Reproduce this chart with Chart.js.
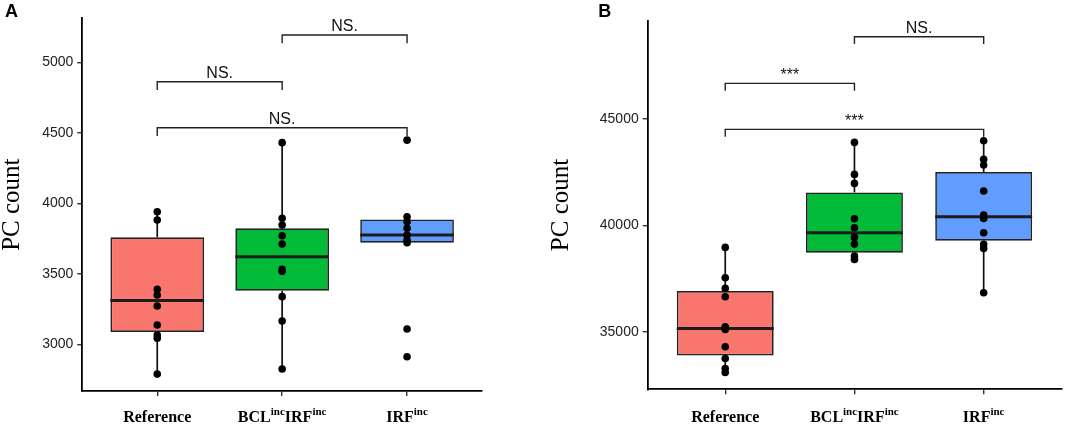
<!DOCTYPE html>
<html>
<head>
<meta charset="utf-8">
<script src="https://cdn.jsdelivr.net/npm/chart.js@4/dist/chart.umd.min.js"></script>
<style>
html, body { margin: 0; padding: 0; background: #fff; width: 1065px; height: 424px; overflow: hidden; }
#pa { position: absolute; left: 0; top: 0; width: 530px; height: 424px; }
#pb { position: absolute; left: 530px; top: 0; width: 535px; height: 424px; }
</style>
</head>
<body>
<div id="pa"><canvas id="ca"></canvas></div>
<div id="pb"><canvas id="cb"></canvas></div>
<script>
// ---------- shared ----------
const categories = ['Reference', 'BCL<sup>inc</sup>IRF<sup>inc</sup>', 'IRF<sup>inc</sup>'];
const boxColors = ['#F8766D', '#00BA38', '#619CFF'];
const yTitle = 'PC count';

// ---------- Panel A ----------
const yTicksA = [3000, 3500, 4000, 4500, 5000];
const pointsA_Reference = [3940, 3882, 3390, 3350, 3272, 3137, 3066, 3043, 2789];
const pointsA_BCL = [4430, 3894, 3846, 3770, 3711, 3532, 3518, 3338, 3165, 2825];
const pointsA_IRF = [4448, 3905, 3869, 3823, 3775, 3740, 3721, 3109, 2912];
const whiskerLowA = [2789, 2825, 3716];
const q1A = [3087, 3380, 3721];
const medianA = [3310, 3621, 3775];
const q3A = [3759, 3823, 3886];
const whiskerHighA = [3940, 4430, 3905];
const compPairsA = [[1, 2], [2, 3], [1, 3]];
const bracketTopA = [4862, 5194, 4536];
const bracketEndA = [4803, 5135, 4477];
const bracketLabelsA = ['NS.', 'NS.', 'NS.'];

// ---------- Panel B ----------
const yTicksB = [35000, 40000, 45000];
const pointsB_Reference = [38964, 37537, 37035, 36643, 35232, 35107, 34291, 33742, 33272, 33084];
const pointsB_BCL = [43902, 42397, 41974, 40312, 39889, 39434, 39120, 38556, 38399];
const pointsB_IRF = [43981, 43103, 42836, 41613, 40484, 40327, 39653, 39105, 38917, 36831];
const whiskerLowB = [33084, 38399, 36831];
const q1B = [33884, 38713, 39277];
const medianB = [35154, 39653, 40406];
const q3B = [36909, 41551, 42507];
const whiskerHighB = [38964, 43902, 43981];
const compPairsB = [[1, 2], [2, 3], [1, 3]];
const bracketTopB = [46679, 48871, 44515];
const bracketEndB = [46331, 48528, 44167];
const bracketLabelsB = ['***', 'NS.', '***'];

// ---------- helpers ----------
const mainFont = 'bold 16px "Liberation Serif"';
const supFont = 'bold 11px "Liberation Serif"';

function drawRich(ctx, markup, cx, baseline) {
  const segs = markup.split(/(<sup>.*?<\/sup>)/).filter(s => s).map(s => {
    const sup = s.startsWith('<sup>');
    return { text: sup ? s.slice(5, -6) : s, sup };
  });
  let total = 0;
  segs.forEach(sg => { ctx.font = sg.sup ? supFont : mainFont; sg.w = ctx.measureText(sg.text).width; total += sg.w; });
  let x = cx - total / 2;
  ctx.textAlign = 'left';
  ctx.textBaseline = 'alphabetic';
  ctx.fillStyle = '#000';
  segs.forEach(sg => {
    ctx.font = sg.sup ? supFont : mainFont;
    ctx.fillText(sg.text, x, sg.sup ? baseline - 7 : baseline);
    x += sg.w;
  });
}

function buildPanel(canvasId, d, lay) {
  const datasets = [];
  // points
  const pts = [];
  d.points.forEach((arr, gi) => arr.forEach(v => pts.push({ x: gi + 1, y: v })));
  datasets.push({
    type: 'scatter', data: pts, order: 0, clip: false,
    pointRadius: 3.8, pointHoverRadius: 3.8,
    backgroundColor: '#000', borderColor: '#000', borderWidth: 0
  });
  // medians
  d.median.forEach((m, gi) => {
    datasets.push({
      type: 'line', order: 1, clip: false,
      data: [{ x: gi + 1 - 0.375, y: m }, { x: gi + 1 + 0.375, y: m }],
      borderColor: '#1c1c1c', borderWidth: 3, pointRadius: 0, fill: false, tension: 0
    });
  });
  // boxes
  datasets.push({
    type: 'bar', order: 2, clip: false,
    data: d.q1.map((q, gi) => ({ x: gi + 1, y: [q, d.q3[gi]] })),
    backgroundColor: boxColors, borderColor: '#222', borderWidth: 1.7,
    borderSkipped: false, barPercentage: 0.75, categoryPercentage: 1
  });
  // whiskers
  d.q1.forEach((q, gi) => {
    datasets.push({
      type: 'line', order: 3, clip: false,
      data: [{ x: gi + 1, y: d.q3[gi] }, { x: gi + 1, y: d.high[gi] }],
      borderColor: '#111', borderWidth: 1.7, pointRadius: 0, fill: false
    });
    datasets.push({
      type: 'line', order: 3, clip: false,
      data: [{ x: gi + 1, y: q }, { x: gi + 1, y: d.low[gi] }],
      borderColor: '#111', borderWidth: 1.7, pointRadius: 0, fill: false
    });
  });
  // brackets
  d.pairs.forEach((pr, bi) => {
    datasets.push({
      type: 'line', order: 4, clip: false,
      data: [
        { x: pr[0], y: d.bEnd[bi] }, { x: pr[0], y: d.bTop[bi] },
        { x: pr[1], y: d.bTop[bi] }, { x: pr[1], y: d.bEnd[bi] }
      ],
      borderColor: '#222', borderWidth: 1.4, pointRadius: 0, fill: false, tension: 0
    });
  });

  const annot = {
    id: 'annot' + canvasId,
    afterDraw(chart) {
      const ctx = chart.ctx;
      const xs = chart.scales.x, ys = chart.scales.y;
      ctx.save();
      categories.forEach((c, i) => drawRich(ctx, c, xs.getPixelForValue(i + 1), xs.top + lay.labelOffset));
      ctx.font = '16px "Liberation Sans"';
      ctx.textAlign = 'center';
      ctx.textBaseline = 'alphabetic';
      ctx.fillStyle = '#111';
      d.pairs.forEach((pr, bi) => {
        const cx = xs.getPixelForValue((pr[0] + pr[1]) / 2);
        ctx.fillText(d.bLabels[bi], cx, ys.getPixelForValue(d.bTop[bi]) - 3.5);
      });
      ctx.font = 'bold 18px "Liberation Sans"';
      ctx.textAlign = 'left';
      ctx.fillStyle = '#000';
      ctx.fillText(lay.letter, lay.letterX, 17);
      ctx.restore();
    }
  };

  return new Chart(document.getElementById(canvasId), {
    type: 'scatter',
    data: { datasets },
    plugins: [annot],
    options: {
      responsive: true, maintainAspectRatio: false, animation: false,
      layout: { padding: { left: 0, right: lay.padRight, top: lay.padTop, bottom: 0 } },
      plugins: { legend: { display: false }, tooltip: { enabled: false } },
      events: [],
      scales: {
        x: {
          type: 'linear', min: 0.4, max: 3.6, offset: false,
          afterBuildTicks: s => { s.ticks = [1, 2, 3].map(v => ({ value: v })); },
          afterFit: s => { s.height = lay.xAxisHeight; },
          ticks: { display: false },
          grid: { display: true, offset: false, drawOnChartArea: false, drawTicks: true, tickLength: 5, color: '#333', lineWidth: 1.4 },
          border: { display: true, color: '#000', width: 1.8 }
        },
        y: {
          type: 'linear', min: d.yMin, max: d.yMax, beginAtZero: false,
          afterBuildTicks: s => { s.ticks = d.yTicks.map(v => ({ value: v })); },
          afterFit: s => { s.width = lay.yAxisWidth; },
          ticks: {
            font: { family: 'Liberation Sans', size: 14 }, color: '#222', padding: 4,
            callback: v => String(v)
          },
          grid: { display: true, drawOnChartArea: false, drawTicks: true, tickLength: 5, color: '#333', lineWidth: 1.4 },
          border: { display: true, color: '#000', width: 1.8 },
          title: {
            display: true, text: yTitle, color: '#000',
            font: { family: 'Liberation Serif', size: 25, lineHeight: 1 },
            padding: { top: lay.titlePad, bottom: 0 }
          }
        }
      }
    }
  });
}

buildPanel('ca', {
  points: [pointsA_Reference, pointsA_BCL, pointsA_IRF],
  low: whiskerLowA, q1: q1A, median: medianA, q3: q3A, high: whiskerHighA,
  pairs: compPairsA, bTop: bracketTopA, bEnd: bracketEndA, bLabels: bracketLabelsA,
  yTicks: yTicksA, yMin: 2669, yMax: 5312
}, { letter: 'A', letterX: 5, yAxisWidth: 82.3, padRight: 48, padTop: 18.3, xAxisHeight: 33, titlePad: 0, labelOffset: 30.7 });

buildPanel('cb', {
  points: [pointsB_Reference, pointsB_BCL, pointsB_IRF],
  low: whiskerLowB, q1: q1B, median: medianB, q3: q3B, high: whiskerHighB,
  pairs: compPairsB, bTop: bracketTopB, bEnd: bracketEndB, bLabels: bracketLabelsB,
  yTicks: yTicksB, yMin: 32291, yMax: 49624
}, { letter: 'B', letterX: 68.3, yAxisWidth: 117.7, padRight: 2.6, padTop: 20.7, xAxisHeight: 34.7, titlePad: 18.5, labelOffset: 32.7 });
</script>
</body>
</html>
